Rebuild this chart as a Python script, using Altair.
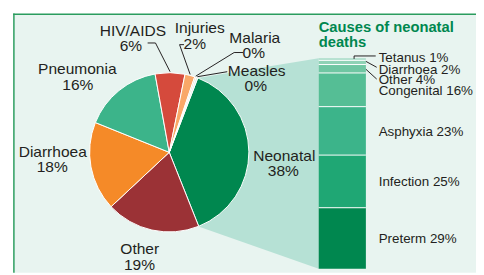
import math
import altair as alt
import pandas as pd

# ---------------- data ----------------
causes = ["Neonatal", "Other", "Diarrhoea", "Pneumonia", "HIV/AIDS", "Injuries", "Malaria", "Measles"]
cause_values = [38, 19, 18, 16, 6, 2, 0.3, 0.35]
cause_pcts = ["38%", "19%", "18%", "16%", "6%", "2%", "0%", "0%"]

neo_causes = ["Preterm", "Infection", "Asphyxia", "Congenital", "Other", "Diarrhoea", "Tetanus"]
neo_values = [29, 25, 23, 16, 4, 2, 1]

title_lines = ["Causes of neonatal", "deaths"]

# ---------------- styles ----------------
pie_colors = ["#00874f", "#9b3236", "#f58a28", "#3cb48a", "#d54a3c", "#f9a868", "#f7c9a3", "#d8efe4"]
neo_colors = ["#00874f", "#1fa774", "#3cb48a", "#55be95", "#6fc6a2", "#8fd2b5", "#a9dcc8"]
TEXT = "#231f20"
GREEN = "#00874f"
FONT = "Liberation Sans"

# ---------------- layout (page px, minus the 8px margin) ----------------
M = 8
W, H = 484 - M, 275 - M
CX, CY, R = 172 - M, 152.5 - M, 81
START_DEG = 21
BAR_X0, BAR_X1 = 324 - M, 372 - M
BAR_TOP, BAR_BOTTOM = 56.8 - M, 271 - M

# pie labels: (name_x, name_baseline, pct_x, pct_baseline) in page px
pie_label_pos = {
    "HIV/AIDS": (135, 34, 133, 49.7),
    "Injuries": (203, 31, 198, 47),
    "Malaria": (259, 41.7, 258, 56.7),
    "Measles": (261, 75, 260, 90),
    "Pneumonia": (78.5, 73.3, 79, 89.3),
    "Diarrhoea": (53.5, 157.3, 53, 172.3),
    "Neonatal": (289, 161.7, 288, 176.7),
    "Other": (142, 256, 141.7, 271.7),
}
# leader line label-side points (page px)
pie_leaders = {
    "HIV/AIDS": [(150, 41.3), (158, 41.3)],
    "Injuries": [(187, 43), (182.5, 43)],
    "Malaria": [(247, 51), (238, 51)],
    "Measles": [(231, 70.5)],
}
# small bar labels (page px baselines) and their leaders
small_bar_labels = {"Other": 83.3, "Diarrhoea": 72.7, "Tetanus": 60.7}
bar_leaders = {
    "Tetanus": [(360, 57.5), (360, 54.5), (382, 54.5)],
    "Diarrhoea": [(372, 60), (383, 66)],
    "Other": [(372, 68), (383, 78)],
}
BAR_LABEL_X = 385 - M

one = pd.DataFrame({"a": [0]})

# ---------------- background and frame ----------------
bg = alt.Chart(one).mark_rect(color="#e8f4f0").encode(
    x=alt.value(6), x2=alt.value(W), y=alt.value(4), y2=alt.value(H))
frame_left = alt.Chart(one).mark_rule(color="#2a9c5e", strokeWidth=1.5).encode(
    x=alt.value(6), y=alt.value(3.3), y2=alt.value(H))
frame_top = alt.Chart(one).mark_rule(color="#2a9c5e", strokeWidth=1.5).encode(
    x=alt.value(5.3), x2=alt.value(W), y=alt.value(4))

# ---------------- pie ----------------
total = sum(cause_values)
a0 = math.radians(START_DEG)
a1 = a0 + cause_values[0] / total * 2 * math.pi

pie_df = pd.DataFrame({
    "cause": causes, "value": cause_values, "order": list(range(len(causes))),
    "col": pie_colors,
})
pie = alt.Chart(pie_df).mark_arc(outerRadius=R, stroke="white", strokeWidth=1).encode(
    theta=alt.Theta("value:Q", stack=True, scale=alt.Scale(range=[a0, a0 + 2 * math.pi])),
    color=alt.Color("col:N", scale=None),
    order=alt.Order("order:Q"),
    x=alt.value(CX), y=alt.value(CY),
)

# connector polygon from the neonatal slice to the bar
xl = CX + R * math.sin(a0)
conn_df = pd.DataFrame({
    "x": [xl, BAR_X0],
    "y": [CY - R * math.cos(a0), BAR_TOP],
    "y2": [CY - R * math.cos(a1), BAR_BOTTOM],
})
conn = alt.Chart(conn_df).mark_area(color="#b6e1d5", orient="vertical").encode(
    x=alt.X("x:Q", scale=None), y=alt.Y("y:Q", scale=None), y2="y2:Q")

# pie labels
rows = []
for c, p in zip(causes, cause_pcts):
    nx, ny, px_, py_ = pie_label_pos[c]
    rows.append({"t": c, "x": nx - M, "y": ny - M})
    rows.append({"t": p, "x": px_ - M, "y": py_ - M})
pie_text = alt.Chart(pd.DataFrame(rows)).mark_text(
    align="center", baseline="alphabetic", fontSize=15.8, font=FONT, color=TEXT).encode(
    x=alt.X("x:Q", scale=None), y=alt.Y("y:Q", scale=None), text="t:N")

# pie leader lines: end at slice mid-angle on the rim
lrows = []
cum = 0
mids = {}
for c, v in zip(causes, cause_values):
    mids[c] = a0 + (cum + v / 2) / total * 2 * math.pi
    cum += v
for c, pts in pie_leaders.items():
    seq = 0
    for (x, y) in pts:
        lrows.append({"id": c, "s": seq, "x": x - M, "y": y - M})
        seq += 1
    a = mids[c]
    rr = R + 1
    lrows.append({"id": c, "s": seq, "x": CX + rr * math.sin(a), "y": CY - rr * math.cos(a)})
for c, pts in bar_leaders.items():
    for s, (x, y) in enumerate(pts):
        lrows.append({"id": "bar_" + c, "s": s, "x": x - M, "y": y - M})
leaders = alt.Chart(pd.DataFrame(lrows)).mark_line(color=TEXT, strokeWidth=1).encode(
    x=alt.X("x:Q", scale=None), y=alt.Y("y:Q", scale=None),
    detail="id:N", order="s:Q")

# ---------------- neonatal bar ----------------
neo_df = pd.DataFrame({
    "cause": neo_causes, "value": neo_values, "order": list(range(len(neo_causes))),
    "col": neo_colors,
})
ysc = alt.Scale(domain=[0, 100], range=[BAR_BOTTOM, BAR_TOP])
base = alt.Chart(neo_df).transform_window(
    cum="sum(value)", sort=[alt.SortField("order")]
).transform_calculate(
    start="datum.cum - datum.value", mid="datum.cum - datum.value / 2",
    label="datum.cause + ' ' + datum.value + '%'",
)
bars = base.mark_rect().encode(
    x=alt.value(BAR_X0), x2=alt.value(BAR_X1),
    y=alt.Y("start:Q", scale=ysc, axis=None), y2="cum:Q",
    color=alt.Color("col:N", scale=None),
)
seps = base.transform_filter("datum.cum < 100").mark_rule(color="white", strokeWidth=1).encode(
    x=alt.value(BAR_X0), x2=alt.value(BAR_X1),
    y=alt.Y("cum:Q", scale=ysc, axis=None),
)
big_labels = base.transform_filter(
    alt.FieldOneOfPredicate(field="cause", oneOf=["Preterm", "Infection", "Asphyxia", "Congenital"])
).mark_text(align="left", baseline="middle", fontSize=13.6, font=FONT, color=TEXT, dy=1).encode(
    x=alt.value(BAR_LABEL_X),
    y=alt.Y("mid:Q", scale=ysc, axis=None),
    text="label:N",
)
bar_layer = alt.layer(bars, seps, big_labels)

srows = []
for c, v in zip(neo_causes, neo_values):
    if c in small_bar_labels:
        srows.append({"t": f"{c} {v}%", "x": BAR_LABEL_X, "y": small_bar_labels[c] - M})
small_labels = alt.Chart(pd.DataFrame(srows)).mark_text(
    align="left", baseline="alphabetic", fontSize=13.6, font=FONT, color=TEXT).encode(
    x=alt.X("x:Q", scale=None), y=alt.Y("y:Q", scale=None), text="t:N")

title_df = pd.DataFrame({"t": title_lines, "x": [324 - M] * 2, "y": [30 - M, 45.7 - M]})
title = alt.Chart(title_df).mark_text(
    align="left", baseline="alphabetic", fontSize=15, fontWeight="bold", font=FONT, color=GREEN).encode(
    x=alt.X("x:Q", scale=None), y=alt.Y("y:Q", scale=None), text="t:N")

chart = alt.layer(
    bg, frame_left, frame_top, conn, pie, bar_layer, leaders, pie_text, small_labels, title
).resolve_scale(
    x="independent", y="independent", color="independent", theta="independent"
).properties(
    width=W, height=H, autosize=alt.AutoSizeParams(type="none"), padding=0, background="white"
).configure_view(stroke=None)

chart.save("out.html", embed_options={"renderer": "svg", "actions": False})
